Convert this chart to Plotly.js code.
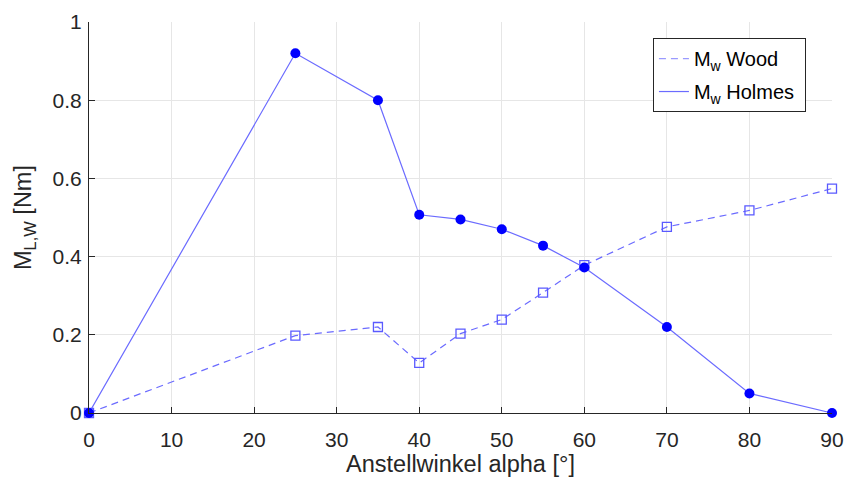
<!DOCTYPE html>
<html>
<head>
<meta charset="utf-8">
<script src="https://cdn.plot.ly/plotly-3.0.1.min.js"></script>
<style>html,body{margin:0;padding:0;background:#fff;}#chart{width:845px;height:478px;}</style>
</head>
<body>
<div id="chart"></div>
<script>
const alpha = [0, 25, 35, 40, 45, 50, 55, 60, 70, 80, 90];
const woodM = [0, 0.198, 0.22, 0.128, 0.203, 0.239, 0.308, 0.378, 0.476, 0.518, 0.574];
const holmesM = [0, 0.92, 0.80, 0.507, 0.495, 0.47, 0.428, 0.372, 0.22, 0.05, 0.0];
const xTicks = [0, 10, 20, 30, 40, 50, 60, 70, 80, 90];
const yTicks = [0, 0.2, 0.4, 0.6, 0.8, 1];
const yTickText = ['0', '0.2', '0.4', '0.6', '0.8', '1'];

const lineCol = '#6b6bff';
const markCol = '#0000ff';

const traces = [
  {x: alpha, y: woodM, mode: 'lines+markers', showlegend: false, cliponaxis: false,
   line: {color: lineCol, width: 1.2, dash: '7px,5px'},
   marker: {symbol: 'square-open', size: 9, color: '#5a5aff', line: {width: 1.3}}},
  {x: alpha, y: holmesM, mode: 'lines+markers', showlegend: false, cliponaxis: false,
   line: {color: lineCol, width: 1.2},
   marker: {symbol: 'circle', size: 10, color: markCol}},
  {x: [null], y: [null], mode: 'lines', name: 'M<sub>w</sub> Wood ', legendgroup: 'a',
   line: {color: '#9a9aff', width: 1.2, dash: '7px,5px'}},
  {x: [null], y: [null], mode: 'lines', name: 'M<sub>w</sub> Holmes ', legendgroup: 'b',
   line: {color: lineCol, width: 1.2}}
];

const layout = {
  width: 845, height: 478,
  margin: {l: 89, r: 13, t: 22, b: 65},
  paper_bgcolor: '#fff', plot_bgcolor: '#fff',
  font: {family: 'Liberation Sans, Arial, sans-serif', color: '#262626', size: 20},
  showlegend: true,
  legend: {x: 0.759, y: 0.959, xanchor: 'left', yanchor: 'top',
    bordercolor: '#262626', borderwidth: 1, bgcolor: '#fff',
    font: {size: 20, color: '#000'}, tracegroupgap: 4},
  xaxis: {range: [0, 90], tickvals: xTicks, ticks: 'inside', ticklen: 6, tickcolor: '#262626',
    showline: true, linecolor: '#262626', linewidth: 1, mirror: false,
    showgrid: true, gridcolor: '#e6e6e6', zeroline: false, automargin: false,
    ticklabelstandoff: 8,
    tickfont: {size: 21}, title: {text: 'Anstellwinkel alpha [°]', font: {size: 23.5}, standoff: 5}},
  yaxis: {range: [0, 1], tickvals: yTicks, ticktext: yTickText, ticks: 'inside', ticklen: 6, tickcolor: '#262626',
    showline: true, linecolor: '#262626', linewidth: 1, mirror: false,
    showgrid: true, gridcolor: '#e6e6e6', zeroline: false, automargin: false,
    ticklabelstandoff: 2,
    tickfont: {size: 21}, title: {text: 'M<sub>L,W</sub> [Nm]', font: {size: 23.5}, standoff: 14}}
};

Plotly.newPlot('chart', traces, layout, {displayModeBar: false, staticPlot: true});
</script>
</body>
</html>
